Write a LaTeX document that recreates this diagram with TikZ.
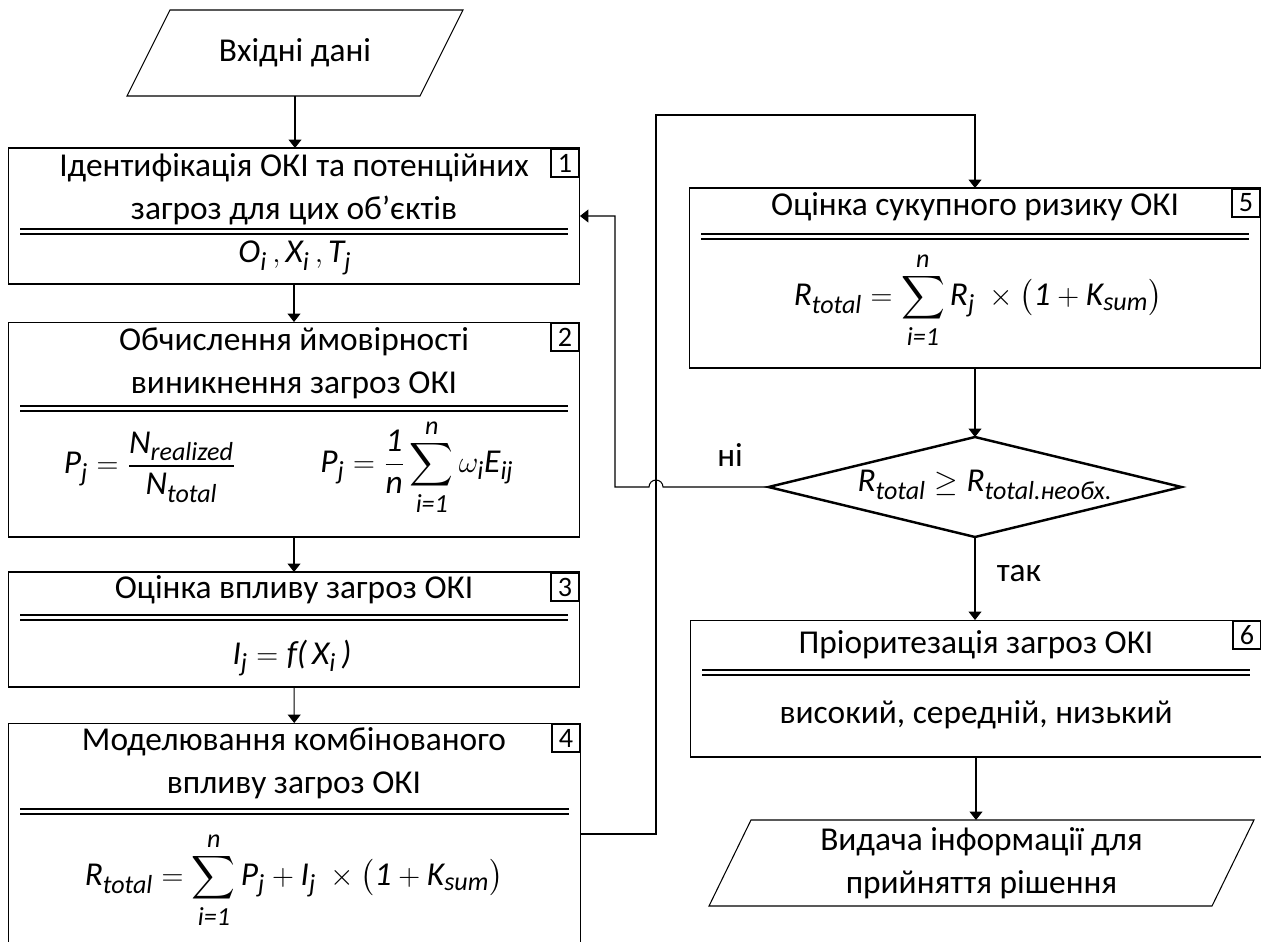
\documentclass[tikz,border=0pt]{standalone}
\usepackage{fontspec}
\setmainfont{Carlito}
\usepackage{amsmath}
\renewcommand{\defaultscriptratio}{0.78}
\renewcommand{\defaultscriptscriptratio}{0.6}
\usetikzlibrary{positioning,shapes.geometric,arrows.meta,calc}

\newcommand{\mainfs}{\fontsize{19}{24.4}\selectfont}
\newcommand{\vi}[1]{\textit{#1}}
% подвійна лінія під заголовком блоку
\newcommand{\sepline}[2]{%
  \draw[sep] ($(#1.west|-0,#2)+(12,0)$) -- ($(#1.east|-0,#2)+(-12,0)$);
  \draw[sep] ($(#1.west|-0,#2)+(12,5)$) -- ($(#1.east|-0,#2)+(-12,5)$);}
% паралелограм довкола вузла: {вузол}{мала півширина}{велика півширина}{піввисота}
\newcommand{\ioshape}[4]{%
  \draw[line width=0.6pt] ($(#1)+(-#2,-#4)$) -- ($(#1)+(#3,-#4)$) -- ($(#1)+(#2,#4)$)
    -- ($(#1)+(-#3,#4)$) -- cycle;}

\tikzset{
  blok/.style={draw, line width=0.6pt, minimum width=11.44cm, inner sep=0pt, outer sep=0pt},
  nomer/.style={draw, line width=1.1pt, minimum size=0.56cm, inner sep=0pt, anchor=north east,
    font=\fontsize{16}{16}\selectfont},
  io/.style={inner sep=0pt, outer sep=0pt, align=center},
  umova/.style={draw, diamond, line width=1.4pt, inner sep=0pt, outer sep=0pt},
  arr/.style={-{Triangle[length=0.17cm,width=0.26cm]}, line width=0.6pt},
  sep/.style={line width=0.6pt},
  txt/.style={align=center, inner sep=0pt}
}

\begin{document}
\begin{tikzpicture}[x=0.02cm, y=-0.02cm, font=\mainfs]
	\useasboundingbox (0,0) rectangle (1261,941);
	
	% вхід
	\node[io, minimum width=5.86cm, minimum height=1.72cm] (in) at (295,53) {Вхідні дані};
	\ioshape{in}{125}{168}{43}
	
	% ліва колонка
	\node[blok, minimum height=2.72cm] (b1) at (294,216) {};
	\node[blok, minimum height=4.30cm] (b2) at (294,429.5) {};
	\node[blok, minimum height=2.30cm] (b3) at (294,629.5) {};
	\node[blok, minimum width=11.46cm, minimum height=4.44cm] (b4) at (294.5,834) {};
	
	% права колонка
	\node[blok, minimum height=3.60cm] (b5) at (975,278) {};
	\node[umova, minimum width=8.26cm, minimum height=2.0cm] (dec) at (975,487) {};
	\node[blok, minimum height=2.74cm] (b6) at (976,688.5) {};
	\node[io, minimum width=9.22cm, minimum height=1.72cm] (out) at (981.5,863)
		{Видача інформації для\\прийняття рішення};
	\ioshape{out}{230.5}{272.5}{43}
	
	% номери блоків
	\node[nomer] (n1) at (b1.north east) {1};
	\node[nomer] (n2) at (b2.north east) {2};
	\node[nomer] (n3) at (b3.north east) {3};
	\node[nomer] (n4) at (b4.north east) {4};
	\node[nomer] (n5) at (b5.north east) {5};
	\node[nomer] (n6) at (b6.north east) {6};
	
	% блок 1
	\node[txt] (t1) at (294,189.5) {Ідентифікація ОКІ та потенційних\\загроз для цих об’єктів};
	\sepline{b1}{229}
	\node[txt] (f1) at (295,258) {$\vi{O}_{\vi{i}}\,,\vi{X}_{\vi{i}}\,,\vi{T}_{\vi{j}}$};
	
	% блок 2
	\node[txt] (t2) at (294,363) {Обчислення ймовірності\\виникнення загроз ОКІ};
	\sepline{b2}{406}
	\node[txt] (f2a) at (150,467)
		{$\displaystyle \vi{P}_{\vi{j}} = \frac{\vi{N}_{\vi{realized}}}{\vi{N}_{\vi{total}}}$};
	\node[txt] (f2b) at (417,467)
		{$\displaystyle \vi{P}_{\vi{j}} = \frac{\vi{1}}{\vi{n}}\sum_{\vi{i=1}}^{\vi{n}}\omega_{\vi{i}}\vi{E}_{\vi{ij}}$};
	
	% блок 3
	\node[txt] (t3) at (294,590) {Оцінка впливу загроз ОКІ};
	\sepline{b3}{615}
	\node[txt] (f3) at (292,658) {$\vi{I}_{\vi{j}} = \vi{f}\vi{(}\,\vi{X}_{\vi{i}}\,\vi{)}$};
	
	% блок 4
	\node[txt] (t4) at (294,763) {Моделювання комбінованого\\впливу загроз ОКІ};
	\sepline{b4}{809}
	\node[txt] (f4) at (294,880)
		{$\displaystyle \vi{R}_{\vi{total}} = \sum_{\vi{i=1}}^{\vi{n}}\vi{P}_{\vi{j}} + \vi{I}_{\vi{j}}\ \times\bigl(\vi{1}+\vi{K}_{\vi{sum}}\bigr)$};
	
	% блок 5
	\node[txt] (t5) at (975,207) {Оцінка сукупного ризику ОКІ};
	\sepline{b5}{234}
	\node[txt] (f5) at (978,300)
		{$\displaystyle \vi{R}_{\vi{total}} = \sum_{\vi{i=1}}^{\vi{n}}\vi{R}_{\vi{j}}\ \times\bigl(\vi{1}+\vi{K}_{\vi{sum}}\bigr)$};
	
	% умова
	\node[txt] (fd) at (985,485) {$\vi{R}_{\vi{total}} \geq \vi{R}_{\vi{total.необх.}}$};
	
	% блок 6
	\node[txt] (t6) at (976,645) {Пріоритезація загроз ОКІ};
	\sepline{b6}{670}
	\node[txt] (f6) at (976,715) {високий, середній, низький};
	
	% з'єднання
	\draw[arr] (in.south) -- (in.south |- b1.north);
	\draw[arr] (b1) -- (b2);
	\draw[arr] (b2) -- (b3);
	\draw[arr] (b3) -- (b4);
	\draw[arr] (b4.east) -| (656,115) -| (b5.north);
	\draw[arr] (b5.south) -- (b5.south |- dec.north);
	\draw[arr] (dec.south) -- (dec.south |- b6.north);
	\draw[arr] (b6.south) -- (b6.south |- out.north);
	\draw[arr] (dec.west) -- (663,487) arc[start angle=0, end angle=180, radius=0.14cm]
		-- (615,487) |- (b1.east);
	
	% підписи
	\node (no) at (730,455) {ні};
	\node (yes) at (1019,573) {так};
	
\end{tikzpicture}
\end{document}
